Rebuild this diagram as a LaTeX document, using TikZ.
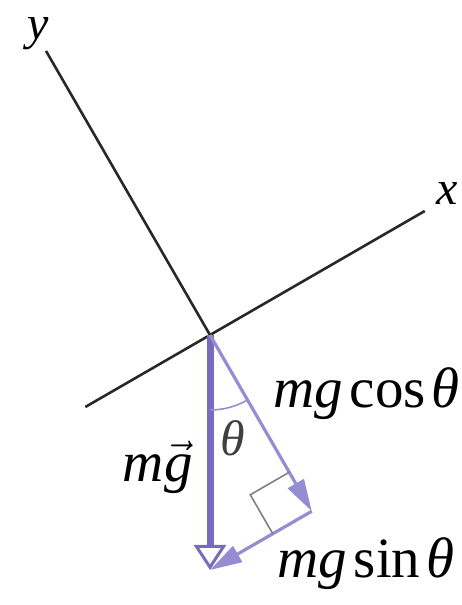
\documentclass[tikz,border=0pt]{standalone}
\usepackage{fontspec}
\setmainfont{Liberation Serif}
\usetikzlibrary{arrows.meta,calc}
\definecolor{vecblue}{RGB}{118,108,190}
\definecolor{compblue}{RGB}{150,140,210}
\definecolor{axisgray}{RGB}{40,40,40}

\begin{document}
\begin{tikzpicture}[x=0.5pt,y=0.5pt,
    lbl/.style={font=\fontsize{28.5}{34}\selectfont, inner sep=0pt},
    axlbl/.style={font=\fontsize{24}{29}\selectfont\itshape, inner sep=0pt},
    axisline/.style={axisgray, line width=1.3pt},
    comp/.style={compblue, line width=1.6pt, -{Triangle[length=16pt,width=9pt]}}]
    \useasboundingbox (0,0) rectangle (461,605);
    % tilted axes
    \coordinate (O) at (210,270);
    \coordinate (xa) at ($(O)+(210:144)$);
    \coordinate (xb) at ($(O)+(30:248)$);
    \coordinate (yb) at ($(O)+(120:328)$);
    \draw[axisline] (xa) -- (xb);
    \draw[axisline] (O) -- (yb);
    \node[axlbl, anchor=base] (xl) at (447,400) {x};
    \node[axlbl, anchor=base] (yl) at (38,565) {y};
    % weight and its components
    \coordinate (G) at ($(O)+(0,-235)$);
    \coordinate (C) at ($(O)+(-60:203.5)$);
    \draw[vecblue, line width=3.5pt,
        -{Triangle[open, fill=white, length=12.5pt, width=16pt, line width=1.5pt]}] (O) -- (G);
    \draw[comp] (O) -- (C);
    \draw[comp] (C) -- (G);
    \draw[gray, line width=0.8pt] ($(C)+(120:45)$) -- ++(210:45) -- ++(-60:45);
    \draw[compblue, line width=0.8pt] ($(O)+(-90:75)$) arc[start angle=-90, end angle=-60, radius=75];
    \node[lbl, text=black!75, font=\fontsize{25}{30}\selectfont] (thl) at (233,167) {\textit{θ}};
    \node[lbl, anchor=base west] (cosl) at (273,197) {\textit{mg}\hspace{0.12em}cos\hspace{0.1em}\textit{θ}};
    \node[lbl, anchor=base west] (sinl) at (277,27) {\textit{mg}\hspace{0.12em}sin\hspace{0.1em}\textit{θ}};
    \node[lbl, anchor=base east] (mgl) at (193,123) {\textit{m}$\vec{\mbox{\itshape g}}$};
\end{tikzpicture}
\end{document}
